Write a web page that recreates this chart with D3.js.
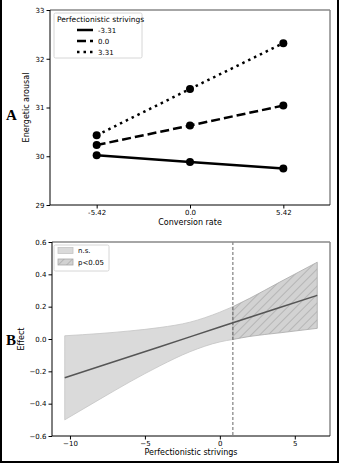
<!DOCTYPE html>
<html>
<head>
<meta charset="utf-8">
<script src="https://d3js.org/d3.v7.min.js"></script>
<style>
  body { margin: 0; background: #fff; }
  svg { display: block; font-family: "DejaVu Sans", sans-serif; }
</style>
</head>
<body>
<svg id="chart" width="340" height="463"></svg>
<script>
// Panel A: simple slopes
const conversion = [-5.42, 0.0, 5.42];
const strivingLevels = ["-3.31", "0.0", "3.31"];
const arousalLow = [30.02, 29.88, 29.75];
const arousalMid = [30.23, 30.63, 31.04];
const arousalHigh = [30.43, 31.38, 32.32];
const arousalTicks = [29, 30, 31, 32, 33];

// Panel B: Johnson-Neyman plot
const jnX = [-10.35, -8, -6, -4, -2, 0, 0.87, 2, 4, 6.5];
const jnEffect = [-0.240, -0.169, -0.108, -0.048, 0.013, 0.074, 0.100, 0.134, 0.195, 0.270];
const jnUpper = [0.020, 0.034, 0.050, 0.071, 0.104, 0.166, 0.200, 0.252, 0.352, 0.475];
const jnLower = [-0.500, -0.372, -0.265, -0.166, -0.079, -0.018, -0.003, 0.016, 0.038, 0.066];
const jnCut = 0.87;
const effectTicks = [-0.6, -0.4, -0.2, 0.0, 0.2, 0.4, 0.6];
const strivingTicks = [-10, -5, 0, 5];

const svg = d3.select("#chart");
const minus = s => s.replace("-", "\u2212");

// outer frame
svg.append("path")
  .attr("d", "M1,0 V462 H338 V0")
  .attr("fill", "none").attr("stroke", "#000").attr("stroke-width", 2);

function frame(g, x0, x1, y0, y1) {
  g.append("line").attr("x1", x0).attr("x2", x1).attr("y1", y0).attr("y2", y0)
    .attr("stroke", "#888").attr("stroke-width", 1.5);
  g.append("line").attr("x1", x1).attr("x2", x1).attr("y1", y0).attr("y2", y1)
    .attr("stroke", "#888").attr("stroke-width", 1.5);
  g.append("line").attr("x1", x0).attr("x2", x1).attr("y1", y1).attr("y2", y1)
    .attr("stroke", "#000").attr("stroke-width", 1);
  g.append("line").attr("x1", x0).attr("x2", x0).attr("y1", y0).attr("y2", y1)
    .attr("stroke", "#000").attr("stroke-width", 1);
}

function styleAxis(g) {
  g.select(".domain").remove();
  g.selectAll("text").attr("font-size", 7).attr("fill", "#000")
    .attr("font-family", "DejaVu Sans, sans-serif");
  g.selectAll("line").attr("stroke", "#000");
}

// ---------- Panel A ----------
{
  const L = 50, R = 330, T = 10, B = 205;
  const x = d3.scaleLinear().domain([-8.13, 8.13]).range([L, R]);
  const y = d3.scaleLinear().domain([29, 33]).range([B, T]);
  const g = svg.append("g");

  g.append("g").attr("transform", `translate(0,${B})`)
    .call(d3.axisBottom(x).tickValues(conversion).tickFormat(d => d.toFixed(d === 0 ? 1 : 2)).tickSize(3.5).tickPadding(2))
    .call(styleAxis);
  g.append("g").attr("transform", `translate(${L},0)`)
    .call(d3.axisLeft(y).tickValues(arousalTicks).tickFormat(d3.format("d")).tickSize(3.5).tickPadding(2))
    .call(styleAxis);

  const series = [
    { vals: arousalLow, dash: null },
    { vals: arousalMid, dash: "9,4" },
    { vals: arousalHigh, dash: "2.5,4" }
  ];
  const line = d3.line().x((d, i) => x(conversion[i])).y(d => y(d));
  series.forEach(s => {
    g.append("path").attr("d", line(s.vals))
      .attr("fill", "none").attr("stroke", "#000").attr("stroke-width", 2.5)
      .attr("stroke-dasharray", s.dash);
    g.selectAll(null).data(s.vals).enter().append("circle")
      .attr("cx", (d, i) => x(conversion[i])).attr("cy", d => y(d))
      .attr("r", 4).attr("fill", "#000");
  });

  frame(g, L, R, T, B);

  // legend
  const lg = g.append("g");
  lg.append("rect").attr("x", 54).attr("y", 13).attr("width", 88).attr("height", 45)
    .attr("rx", 1.5).attr("fill", "#fff").attr("stroke", "#ccc").attr("stroke-width", 0.8);
  lg.append("text").attr("x", 57).attr("y", 22).attr("font-size", 7.5).text("Perfectionistic strivings");
  series.forEach((s, i) => {
    const yy = 30 + i * 11;
    lg.append("line").attr("x1", 77).attr("x2", 93).attr("y1", yy).attr("y2", yy)
      .attr("stroke", "#000").attr("stroke-width", 2.5).attr("stroke-dasharray", s.dash);
    lg.append("text").attr("x", 98).attr("y", yy + 2.5).attr("font-size", 7).text(strivingLevels[i]);
  });

  g.append("text").attr("transform", `translate(29,${(T + B) / 2}) rotate(-90)`)
    .attr("text-anchor", "middle").attr("font-size", 8).text("Energetic arousal");
  g.append("text").attr("x", (L + R) / 2).attr("y", 225)
    .attr("text-anchor", "middle").attr("font-size", 8).text("Conversion rate");
  g.append("text").attr("x", 6).attr("y", 120).attr("font-size", 15).attr("font-weight", "bold")
    .attr("font-family", "Liberation Serif, serif").text("A");
}

// ---------- Panel B ----------
{
  const L = 52, R = 330, T = 242, B = 436;
  const x = d3.scaleLinear().domain([-11.2, 7.35]).range([L, R]);
  const y = d3.scaleLinear().domain([-0.6, 0.6]).range([B, T]);
  const g = svg.append("g");

  const defs = svg.append("defs");
  const pat = defs.append("pattern").attr("id", "hatch").attr("patternUnits", "userSpaceOnUse")
    .attr("width", 6).attr("height", 6).attr("patternTransform", "rotate(45)");
  pat.append("rect").attr("width", 6).attr("height", 6).attr("fill", "#d2d2d2");
  pat.append("line").attr("x1", 0).attr("x2", 0).attr("y1", 0).attr("y2", 6)
    .attr("stroke", "#8a8a8a").attr("stroke-width", 0.8);

  g.append("g").attr("transform", `translate(0,${B})`)
    .call(d3.axisBottom(x).tickValues(strivingTicks).tickFormat(d => minus(String(d))).tickSize(3.5).tickPadding(2))
    .call(styleAxis);
  g.append("g").attr("transform", `translate(${L},0)`)
    .call(d3.axisLeft(y).tickValues(effectTicks).tickFormat(d => minus(d.toFixed(1))).tickSize(3.5).tickPadding(2))
    .call(styleAxis);

  const pts = jnX.map((v, i) => ({ x: v, e: jnEffect[i], lo: jnLower[i], hi: jnUpper[i] }));
  const area = d3.area().curve(d3.curveMonotoneX)
    .x(d => x(d.x)).y0(d => y(d.lo)).y1(d => y(d.hi));
  const ns = pts.filter(d => d.x <= jnCut);
  const sig = pts.filter(d => d.x >= jnCut);

  g.append("path").attr("d", area(ns)).attr("fill", "#dadada")
    .attr("stroke", "#c4c4c4").attr("stroke-width", 0.8);
  g.append("path").attr("d", area(sig)).attr("fill", "url(#hatch)")
    .attr("stroke", "#a8a8a8").attr("stroke-width", 0.8);

  g.append("path").attr("d", d3.line().x(d => x(d.x)).y(d => y(d.e))(pts))
    .attr("fill", "none").attr("stroke", "#555").attr("stroke-width", 1.5);

  g.append("line").attr("x1", x(jnCut)).attr("x2", x(jnCut)).attr("y1", T).attr("y2", B)
    .attr("stroke", "#555").attr("stroke-width", 0.9).attr("stroke-dasharray", "3,2");

  frame(g, L, R, T, B);

  // legend
  const lg = g.append("g");
  lg.append("rect").attr("x", 54).attr("y", 245).attr("width", 55).attr("height", 26)
    .attr("rx", 1.5).attr("fill", "#fff").attr("stroke", "#ccc").attr("stroke-width", 0.8);
  lg.append("rect").attr("x", 58).attr("y", 247.5).attr("width", 15).attr("height", 6)
    .attr("fill", "#dadada").attr("stroke", "#c4c4c4").attr("stroke-width", 0.8);
  lg.append("rect").attr("x", 58).attr("y", 259).attr("width", 15).attr("height", 6)
    .attr("fill", "url(#hatch)").attr("stroke", "#a8a8a8").attr("stroke-width", 0.8);
  lg.append("text").attr("x", 78).attr("y", 253).attr("font-size", 7).text("n.s.");
  lg.append("text").attr("x", 78).attr("y", 264.5).attr("font-size", 7).text("p<0.05");

  g.append("text").attr("transform", `translate(24,${(T + B) / 2}) rotate(-90)`)
    .attr("text-anchor", "middle").attr("font-size", 8).text("Effect");
  g.append("text").attr("x", (L + R) / 2).attr("y", 455)
    .attr("text-anchor", "middle").attr("font-size", 8).text("Perfectionistic strivings");
  g.append("text").attr("x", 6).attr("y", 345).attr("font-size", 15).attr("font-weight", "bold")
    .attr("font-family", "Liberation Serif, serif").text("B");
}
</script>
</body>
</html>
